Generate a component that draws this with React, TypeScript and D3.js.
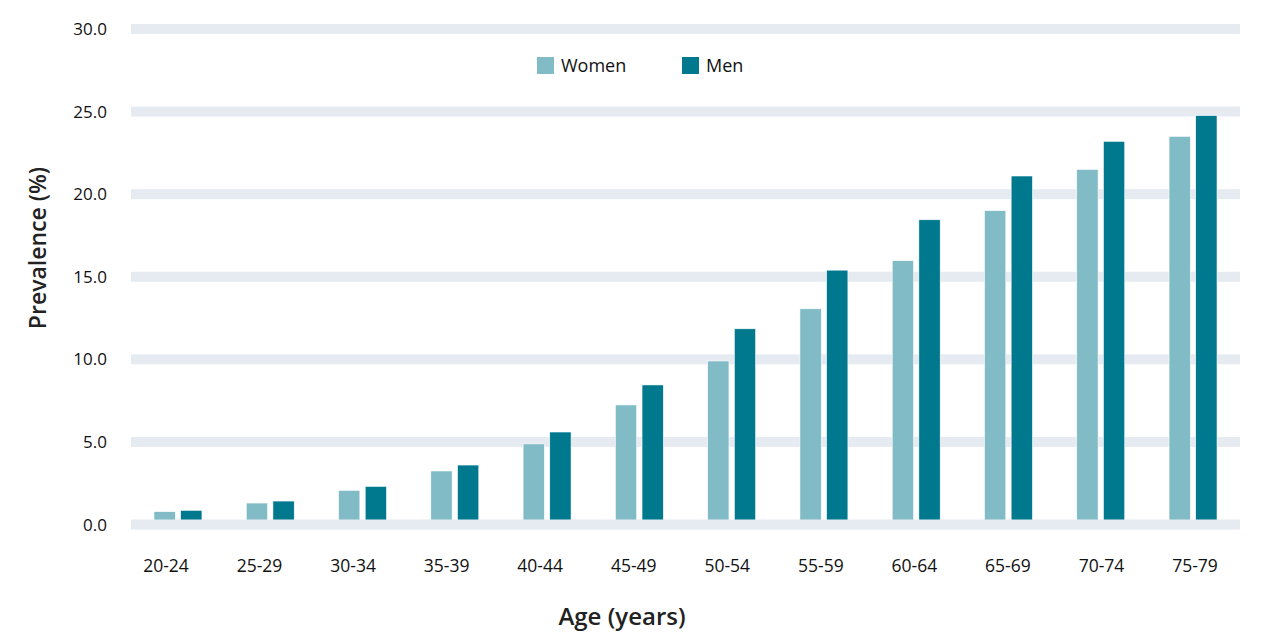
import * as d3 from "d3";

const ageGroups = ["20-24", "25-29", "30-34", "35-39", "40-44", "45-49", "50-54", "55-59", "60-64", "65-69", "70-74", "75-79"];
const women = [0.78, 1.3, 2.07, 3.24, 4.88, 7.24, 9.9, 13.06, 15.97, 19.0, 21.5, 23.5];
const men = [0.86, 1.42, 2.31, 3.6, 5.6, 8.45, 11.85, 15.4, 18.45, 21.1, 23.2, 24.76];
const yTicks = [0, 5, 10, 15, 20, 25, 30];
const seriesNames = ["Women", "Men"];
const colors = ["#80bbc6", "#00788d"];

const width = 1280;
const height = 641;
const font = "'Open Sans', 'Noto Sans', sans-serif";

export default function App() {
  const x = d3.scaleBand<string>().domain(ageGroups).range([131, 1240]).paddingInner(0.48).paddingOuter(0.249);
  const xInner = d3.scaleBand<string>().domain(seriesNames).range([0, x.bandwidth()]).paddingInner(0.2);
  const xLabel = d3.scalePoint<string>().domain(ageGroups).range([166, 1195]);
  const y = d3.scaleLinear().domain([0, 30]).range([524.5, 29]);

  const series = [women, men];

  const grid = (t: number) => (
    <rect key={"g" + t} x={131} width={1109} y={y(t) - 5} height={10} fill="#e6eaf1" />
  );

  return (
    <svg width={width} height={height} style={{ position: "absolute", left: 0, top: 0 }} fontFamily={font}>
      <rect width={width} height={height} fill="#fff" />
      {yTicks.filter((t) => t !== 0).map(grid)}
      {ageGroups.map((g, i) => (
        <g key={g} transform={`translate(${x(g)},0)`}>
          {series.map((s, j) => (
            <rect
              key={j}
              x={xInner(seriesNames[j])}
              width={xInner.bandwidth()}
              y={y(s[i])}
              height={y(0) - y(s[i])}
              fill={colors[j]}
              stroke="#fff"
              strokeWidth={0.6}
            />
          ))}
        </g>
      ))}
      {grid(0)}
      {yTicks.map((t) => (
        <text key={"t" + t} x={107} y={y(t)} dy="0.36em" textAnchor="end" fontSize={17} fill="#111">
          {d3.format(".1f")(t)}
        </text>
      ))}
      {ageGroups.map((g) => (
        <text key={"l" + g} x={xLabel(g)} y={566} dy="0.36em" textAnchor="middle" fontSize={17.5} fill="#111">
          {g}
        </text>
      ))}
      <text
        transform={`translate(38,248) rotate(-90)`}
        textAnchor="middle"
        dy="0.36em"
        fontSize={23}
        fontWeight={600}
        fill="#222"
      >
        Prevalence (%)
      </text>
      <text x={622} y={616} dy="0.36em" textAnchor="middle" fontSize={24} fontWeight={600} fill="#222">
        Age (years)
      </text>
      {seriesNames.map((n, j) => (
        <g key={n} transform={`translate(${j === 0 ? 537 : 682},57)`}>
          <rect width={17} height={17} fill={colors[j]} />
          <text x={24} y={8.5} dy="0.36em" fontSize={18} fill="#111">
            {n}
          </text>
        </g>
      ))}
    </svg>
  );
}
